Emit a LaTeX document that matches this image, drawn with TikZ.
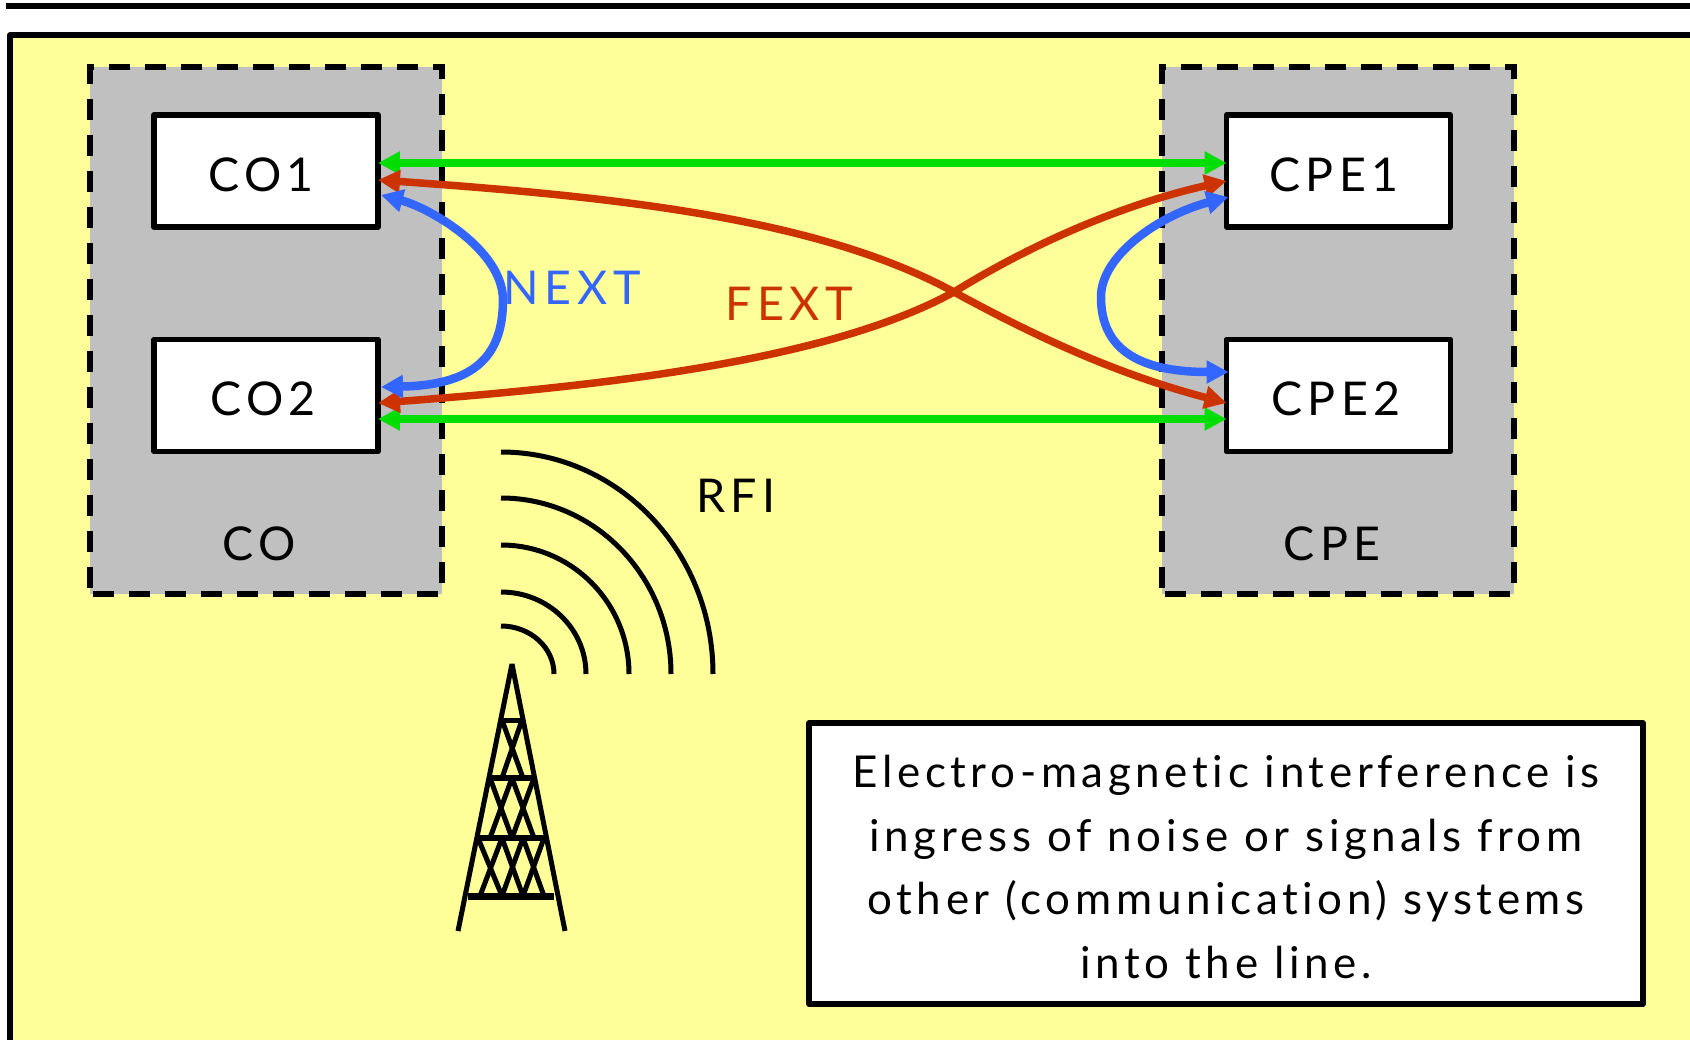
\documentclass[tikz,border=0pt]{standalone}
\usepackage{fontspec}
\setmainfont{Lato}[LetterSpace=12, Ligatures={NoCommon,NoRare,NoContextual}]
\usetikzlibrary{arrows.meta}
\definecolor{bgyellow}{RGB}{255,255,153}
\definecolor{zonegray}{RGB}{192,192,192}
\definecolor{linkgreen}{RGB}{0,221,0}
\definecolor{fextred}{RGB}{204,51,0}
\definecolor{nextblue}{RGB}{51,102,255}
\tikzset{
  zone/.style={draw=black, fill=zonegray, line width=0.12cm, dash pattern=on 0.42cm off 0.3cm, dash phase=0.66cm, minimum width=7.04cm, minimum height=10.54cm, outer sep=0pt},
  modem/.style={draw=black, fill=white, line width=0.11cm, line join=round, minimum width=4.48cm, minimum height=2.24cm, outer sep=0pt},
  tag/.style={font=\fontsize{26.5}{27}\selectfont, inner sep=0pt},
  direct/.style={linkgreen, line width=0.16cm, {Triangle[length=0.44cm,width=0.44cm]}-{Triangle[length=0.44cm,width=0.44cm]}},
  far/.style={fextred, line width=0.15cm, {Triangle[length=0.44cm,width=0.44cm]}-{Triangle[length=0.44cm,width=0.44cm]}},
  near/.style={nextblue, line width=0.17cm, {Triangle[length=0.44cm,width=0.44cm]}-{Triangle[length=0.44cm,width=0.44cm]}},
  wave/.style={line width=0.1cm},
  mast/.style={line width=0.1cm, line join=bevel},
}
\begin{document}
\begin{tikzpicture}[x=0.02cm, y=-0.02cm]
  \clip (0,0) rectangle (1690,1040);
  % Top rule and background
  \draw[line width=0.12cm] (6,6) -- (1700,6);
  \draw[fill=bgyellow, line width=0.11cm, line join=round] (10,35) rectangle (1720,1070);
  % Sites
  \node[zone] (co) at (266,330.5) {};
  \node[zone] (cpe) at (1338,330.5) {};
  \node[tag] (colabel) at (259,544) {CO};
  \node[tag] (cpelabel) at (1332,544) {CPE};
  % Modems
  \node[modem] (co1) at (266,171) {};
  \node[modem] (co2) at (266,395.5) {};
  \node[modem] (cpe1) at (1338.5,171) {};
  \node[modem] (cpe2) at (1338.5,395.5) {};
  \node[tag] (co1label) at (261,175) {CO1};
  \node[tag] (co2label) at (263,399) {CO2};
  \node[tag] (cpe1label) at (1334,175) {CPE1};
  \node[tag] (cpe2label) at (1336,399) {CPE2};
  % Direct links
  \draw[direct] ([yshift=0.16cm]co1.east) -- ([yshift=0.16cm]cpe1.west);
  \draw[direct] ([yshift=-0.47cm]co2.east) -- ([yshift=-0.47cm]cpe2.west);
  % FEXT
  \coordinate (xing) at (954,292);
  \draw[far] ([yshift=-0.18cm]co1.east) .. controls (620,197) and (820,219) .. (xing)
    .. controls (1040,339) and (1120,375) .. ([yshift=-0.15cm]cpe2.west);
  \draw[far] ([yshift=-0.15cm]co2.east) .. controls (620,385) and (834,358) .. (xing)
    .. controls (1030,245) and (1120,205) .. ([yshift=-0.2cm]cpe1.west);
  % NEXT
  \coordinate (nextl) at (503,300);
  \coordinate (nextr) at (1101,297);
  \draw[near] ([xshift=0.06cm,yshift=-0.48cm]co1.east) .. controls (430,208) and (503,250) .. (nextl)
    .. controls (503,360) and (470,385) .. ([xshift=0.06cm,yshift=0.17cm]co2.east);
  \draw[near] ([xshift=0.04cm,yshift=-0.52cm]cpe1.west) .. controls (1160,215) and (1101,255) .. (nextr)
    .. controls (1101,350) and (1140,372) .. ([xshift=0.04cm,yshift=0.47cm]cpe2.west);
  \node[tag, text=nextblue] (nextlabel) at (572,288) {NEXT};
  \node[tag, text=fextred] (fextlabel) at (789,304) {FEXT};
  % RFI waves
  \node[tag] (rfilabel) at (736,496) {RFI};
  \foreach \rx/\ry in {212/222, 170/176, 128/129, 85/82, 53/48}
    \draw[wave] (501,674-\ry) arc[start angle=-90, end angle=0, x radius=\rx, y radius=\ry];
  % Tower
  \draw[mast] (458,931) -- (512,664) -- (565,931);
  \draw[mast] (502,720) -- (522,720);
  \draw[mast, line width=0.12cm] (490,778) -- (535,778);
  \draw[mast, line width=0.12cm] (478,838) -- (544,838);
  \draw[mast, line width=0.14cm] (468,896) -- (554,896);
  \draw[mast] (502,720) -- (523,778) (522,720) -- (502,778);
  \draw[mast] (490,778) -- (512,838) (512,778) -- (534,838) (512,778) -- (490,838) (534,778) -- (512,838);
  \draw[mast] (478,838) -- (502,896) (502,838) -- (523,896) (523,838) -- (544,896);
  \draw[mast] (502,838) -- (480,896) (523,838) -- (502,896) (544,838) -- (523,896);
  % Note
  \node[draw=black, fill=white, line width=0.11cm, line join=round, minimum width=16.68cm, minimum height=5.62cm] (note) at (1226,863.5) {};
  \node[align=center, inner sep=0pt, font=\fontsize{25}{36.4}\selectfont\addfontfeature{LetterSpace=10.5}] (notetext) at (1226,867)
    {Electro-magnetic interference is\\ ingress of noise or signals from\\ other (communication) systems\\ into the line.};
\end{tikzpicture}
\end{document}
